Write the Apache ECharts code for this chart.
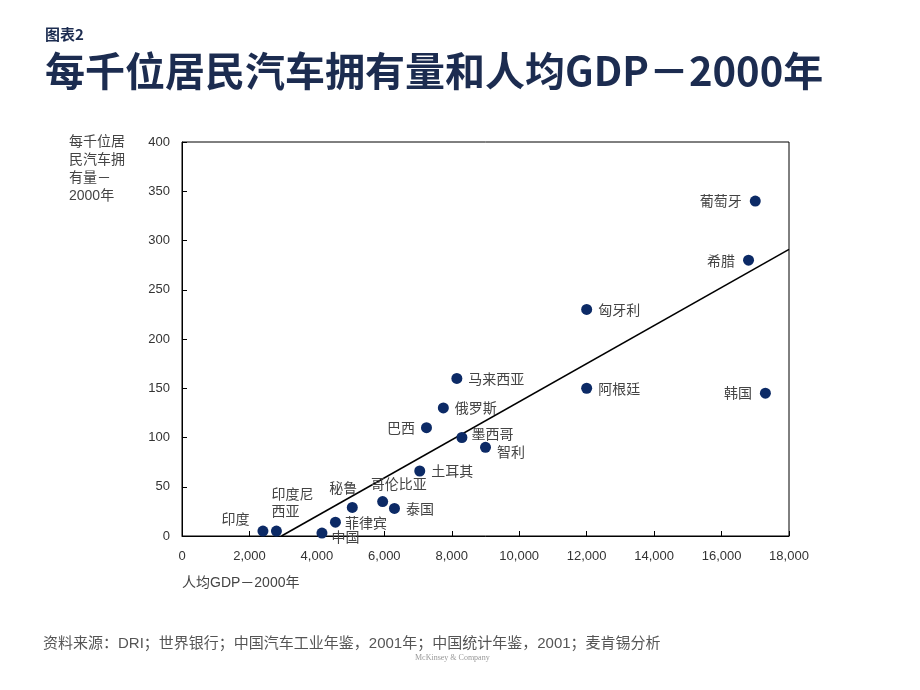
<!DOCTYPE html>
<html><head><meta charset="utf-8">
<script src="https://cdn.jsdelivr.net/npm/echarts@6/dist/echarts.min.js"></script>
<style>html,body{margin:0;padding:0;background:#fff}#c{width:920px;height:690px}</style>
</head><body><div id="c"></div>
<script>
const countries = ['印度','印度尼西亚','中国','菲律宾','秘鲁','哥伦比亚','泰国','土耳其','巴西','墨西哥','智利','俄罗斯','马来西亚','匈牙利','阿根廷','希腊','葡萄牙','韩国'];
const gdpPerCapita = [2400, 2800, 4150, 4550, 5050, 5950, 6300, 7050, 7250, 8300, 9000, 7750, 8150, 12000, 12000, 16800, 17000, 17300];
const carsPer1000 = [5, 5, 3, 14, 29, 35, 28, 66, 110, 100, 90, 130, 160, 230, 150, 280, 340, 145];
const trendX = [2950, 18000];
const trendY = [0, 291];
const xTicks = [0, 2000, 4000, 6000, 8000, 10000, 12000, 14000, 16000, 18000];
const yTicks = [0, 50, 100, 150, 200, 250, 300, 350, 400];

const labelPos = {
  '印度': {position: 'left', distance: 8, offset: [0, -12]},
  '印度尼西亚': {position: 'top', distance: 6, formatter: '印度尼\n西亚', align: 'left', offset: [-5, 0]},
  '中国': {position: 'right', distance: 4, offset: [0, 4]},
  '菲律宾': {position: 'right', distance: 4},
  '秘鲁': {position: 'top', distance: 6, offset: [-9, 0]},
  '哥伦比亚': {position: 'top', distance: 4, offset: [16, 0]},
  '墨西哥': {position: 'right', distance: 4, offset: [0, -4]},
  '智利': {position: 'right', distance: 6, offset: [0, 4]},
  '巴西': {position: 'left', distance: 6},
  '希腊': {position: 'left', distance: 8},
  '葡萄牙': {position: 'left', distance: 8},
  '韩国': {position: 'left', distance: 8}
};

const points = countries.map((n, i) => {
  const o = {name: n, value: [gdpPerCapita[i], carsPer1000[i]]};
  if (labelPos[n]) o.label = labelPos[n];
  return o;
});

const chart = echarts.init(document.getElementById('c'));
const fmt = v => v.toString().replace(/\B(?=(\d{3})+(?!\d))/g, ',');
chart.setOption({
  animation: false,
  backgroundColor: '#fff',
  textStyle: {fontFamily: '"Liberation Sans", "Noto Sans CJK SC", sans-serif'},
  title: [
    {text: '图表2', left: 40, top: 22, textStyle: {fontSize: 15, fontWeight: 'bold', color: '#1c2c50', fontFamily: '"Noto Sans CJK SC", sans-serif'}},
    {text: '每千位居民汽车拥有量和人均GDP－2000年', left: 40, top: 46, textStyle: {fontSize: 40, fontWeight: 'bold', color: '#1c2c50', fontFamily: '"Noto Sans CJK SC", sans-serif'}},
    {text: '资料来源：DRI；世界银行；中国汽车工业年鉴，2001年；中国统计年鉴，2001；麦肯锡分析', left: 38, top: 631, textStyle: {fontSize: 15, fontWeight: 'normal', color: '#555', fontFamily: '"Liberation Sans", "Noto Sans CJK SC", sans-serif'}},
    {text: 'McKinsey & Company', left: 410, top: 649, textStyle: {fontSize: 8, fontWeight: 'normal', color: '#999', fontFamily: '"Liberation Serif", serif'}}
  ],
  grid: {left: 182, right: 131, top: 142, bottom: 154, show: true, borderColor: '#000', borderWidth: 1},
  xAxis: {
    type: 'value', min: 0, max: 18000, interval: 2000,
    name: '人均GDP－2000年', nameLocation: 'start', nameGap: 0,
    nameTextStyle: {fontSize: 14, color: '#444', align: 'left', verticalAlign: 'top', padding: [40, 0, 0, 0], fontFamily: '"Liberation Sans", "Noto Sans CJK SC", sans-serif'},
    axisLine: {lineStyle: {color: '#000'}},
    axisTick: {inside: true, length: 5, lineStyle: {color: '#000'}},
    axisLabel: {fontSize: 13, color: '#333', margin: 14, formatter: v => xTicks.includes(v) ? fmt(v) : ''},
    splitLine: {show: false}
  },
  yAxis: {
    type: 'value', min: 0, max: 400, interval: 50,
    axisLine: {show: true, lineStyle: {color: '#000'}},
    axisTick: {show: true, inside: true, length: 5, lineStyle: {color: '#000'}},
    axisLabel: {fontSize: 13, color: '#333', margin: 12, formatter: v => yTicks.includes(v) ? String(v) : ''},
    splitLine: {show: false}
  },
  graphic: [{
    type: 'text', left: 69, top: 133,
    style: {text: '每千位居\n民汽车拥\n有量－\n2000年', fontSize: 14, lineHeight: 18, fill: '#444', fontFamily: '"Liberation Sans", "Noto Sans CJK SC", sans-serif'}
  }],
  series: [
    {
      type: 'line', data: trendX.map((x, i) => [x, trendY[i]]), symbol: 'none',
      lineStyle: {color: '#000', width: 1.6}, silent: true, z: 1
    },
    {
      type: 'scatter', data: points, symbolSize: 11,
      itemStyle: {color: '#0c2a66', opacity: 1}, z: 2,
      label: {show: true, position: 'right', distance: 6, formatter: '{b}', fontSize: 14, color: '#444', lineHeight: 17, fontFamily: '"Noto Sans CJK SC", sans-serif'}
    }
  ]
});
</script></body></html>
